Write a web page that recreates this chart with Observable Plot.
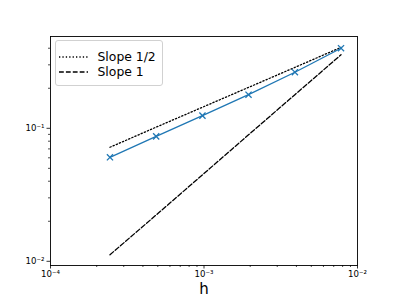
<!DOCTYPE html>
<html>
<head>
<meta charset="utf-8">
<script src="https://cdn.jsdelivr.net/npm/d3@7"></script>
<script src="https://cdn.jsdelivr.net/npm/@observablehq/plot@0.6"></script>
<style>
  html, body { margin: 0; padding: 0; background: white; }
</style>
</head>
<body>
<div id="chart"></div>
<script>
const h = [2.44e-4, 4.88e-4, 9.77e-4, 1.95e-3, 3.91e-3, 7.81e-3];
const err = [0.0605, 0.087, 0.1245, 0.179, 0.264, 0.40];
const slopeHalf = [0.072, 0.102, 0.144, 0.203, 0.287, 0.406];
const slopeOne = [0.0112, 0.0223, 0.0447, 0.0893, 0.179, 0.357];
const xMajor = [1e-4, 1e-3, 1e-2];
const xMajorLabels = ["10⁻⁴", "10⁻³", "10⁻²"];
const yMajor = [1e-2, 1e-1];
const yMajorLabels = ["10⁻²", "10⁻¹"];
const legendLabels = ["Slope 1/2", "Slope 1"];
const xLabel = "h";

const xMinor = [];
for (const e of [1e-4, 1e-3]) for (let k = 2; k <= 9; k++) xMinor.push(k * e);
const yMinor = [];
for (const e of [1e-3, 1e-2, 1e-1]) for (let k = 2; k <= 9; k++) {
  const v = k * e; if (v > 0.0093 && v < 0.49) yMinor.push(v);
}

const xFmt = d => xMajorLabels[xMajor.findIndex(v => Math.abs(v - d) / v < 1e-6)];
const yFmt = d => yMajorLabels[yMajor.findIndex(v => Math.abs(v - d) / v < 1e-6)];

const rows = h.map((d, i) => ({h: d, err: err[i], s1: slopeHalf[i], s2: slopeOne[i]}));

const blue = "#1f77b4";
const lw = 1.3;

const chart = Plot.plot({
  width: 397,
  height: 298,
  marginLeft: 50,
  marginRight: 40,
  marginTop: 36,
  marginBottom: 33,
  style: {fontFamily: "DejaVu Sans", fontSize: "8.6px", background: "white", color: "black"},
  x: {type: "log", domain: [1e-4, 1e-2]},
  y: {type: "log", domain: [0.0093, 0.49]},
  marks: [
    Plot.axisX({ticks: xMinor, tickSize: 2, text: null, label: null, strokeWidth: 0.7}),
    Plot.axisX({ticks: xMajor, tickSize: 3.5, tickPadding: 2, tickFormat: xFmt, label: null, strokeWidth: 0.8, fill: "black"}),
    Plot.axisY({ticks: yMinor, tickSize: 2, text: null, label: null, strokeWidth: 0.7}),
    Plot.axisY({ticks: yMajor, tickSize: 3.5, tickPadding: 2.5, tickFormat: yFmt, label: null, strokeWidth: 0.8, fill: "black"}),
    Plot.line(rows, {x: "h", y: "s1", stroke: "black", strokeWidth: lw, strokeDasharray: "1.3,2.1"}),
    Plot.line(rows, {x: "h", y: "s2", stroke: "black", strokeWidth: lw, strokeDasharray: "4.8,2.1"}),
    Plot.line(rows, {x: "h", y: "err", stroke: blue, strokeWidth: lw}),
    Plot.dot(rows, {x: "h", y: "err", symbol: "times", r: 2.9, stroke: blue, strokeWidth: lw}),
    Plot.frame({stroke: "black", strokeWidth: 0.9}),
    Plot.text([xLabel], {frameAnchor: "bottom", lineAnchor: "top", dy: 18, fontSize: 15, fill: "black"})
  ]
});

document.getElementById("chart").appendChild(chart);

// legend
const svg = d3.select(chart);
const g = svg.append("g").attr("font-family", "DejaVu Sans").attr("font-size", 12.4).attr("text-anchor", "start");
g.append("rect").attr("x", 55.5).attr("y", 40.5).attr("width", 107).attr("height", 45)
  .attr("rx", 2.5).attr("fill", "white").attr("fill-opacity", 0.8)
  .attr("stroke", "#cccccc").attr("stroke-width", 0.9);
const dashes = ["1.3,2.1", "4.8,2.1"];
const ys = [57, 72];
legendLabels.forEach((lab, i) => {
  g.append("line").attr("x1", 59).attr("x2", 88).attr("y1", ys[i]).attr("y2", ys[i])
    .attr("stroke", "black").attr("stroke-width", lw).attr("stroke-dasharray", dashes[i]);
  g.append("text").attr("x", 97.5).attr("y", ys[i]).attr("dy", "0.36em").attr("fill", "black")
    .attr("text-anchor", "start").text(lab);
});
</script>
</body>
</html>
